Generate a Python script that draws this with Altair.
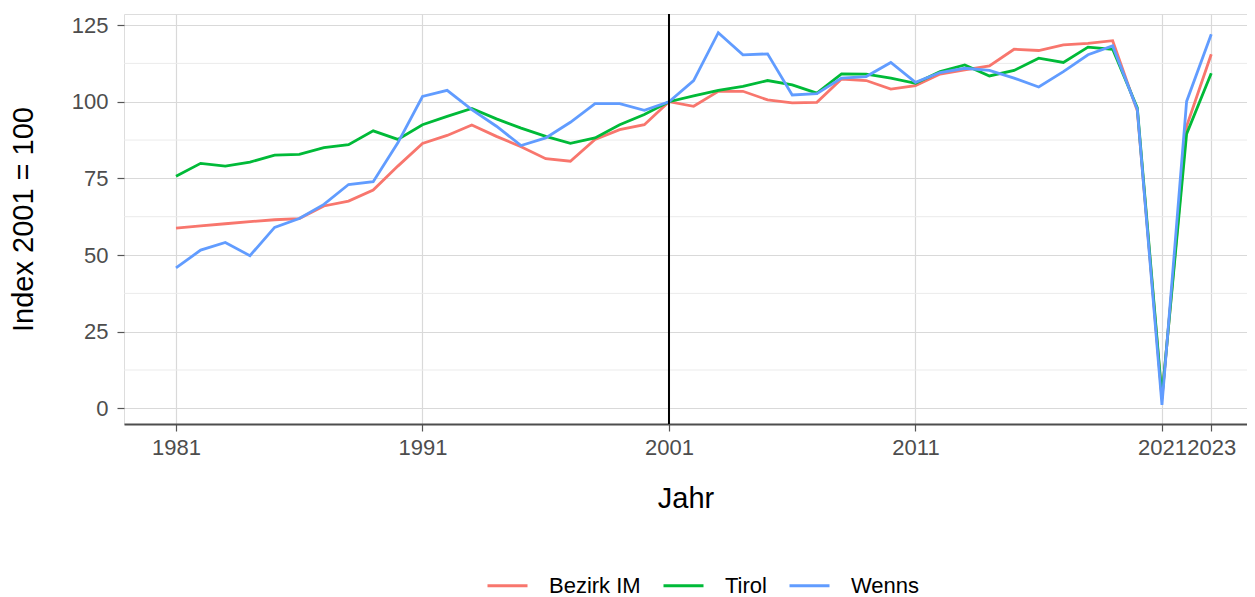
import altair as alt
import pandas as pd

years = [1981, 1982, 1983, 1984, 1985, 1986, 1987, 1988, 1989, 1990,
         1991, 1992, 1993, 1994, 1995, 1996, 1997, 1998, 1999, 2000,
         2001, 2002, 2003, 2004, 2005, 2006, 2007, 2008, 2009, 2010,
         2011, 2012, 2013, 2014, 2015, 2016, 2017, 2018, 2019, 2020,
         2021, 2022, 2023]

bezirk_im = [58.8, 59.5, 60.2, 60.9, 61.5, 61.9, 66.0, 67.6, 71.2, 79.0,
             86.4, 89.0, 92.4, 88.7, 85.3, 81.4, 80.6, 87.7, 90.9, 92.5,
             100.0, 98.5, 103.4, 103.4, 100.6, 99.6, 99.8, 107.4, 106.9, 104.1,
             105.2, 109.0, 110.4, 111.7, 117.1, 116.7, 118.5, 119.0, 119.9, 97.0,
             3.2, 92.0, 115.5]

tirol = [75.7, 79.9, 79.0, 80.3, 82.6, 82.8, 85.0, 86.0, 90.5, 87.7,
         92.5, 95.2, 97.8, 94.4, 91.4, 88.7, 86.4, 88.2, 92.5, 95.8,
         100.0, 101.9, 103.7, 105.0, 106.9, 105.5, 102.8, 109.1, 109.0, 107.7,
         106.0, 109.8, 112.0, 108.4, 110.2, 114.2, 112.8, 117.8, 117.1, 98.0,
         3.8, 89.5, 109.3]

wenns = [45.8, 51.6, 54.1, 49.8, 59.0, 61.9, 66.5, 73.0, 73.9, 86.6,
         101.7, 103.7, 97.4, 92.0, 85.7, 88.2, 93.3, 99.4, 99.4, 97.2,
         100.0, 106.9, 122.5, 115.3, 115.6, 102.2, 102.6, 107.7, 108.2, 112.8,
         106.3, 109.5, 110.9, 110.2, 107.7, 104.8, 109.8, 115.3, 118.2, 97.5,
         1.1, 100.1, 122.0]

series_names = ["Bezirk IM", "Tirol", "Wenns"]
series_colors = ["#F8766D", "#00BA38", "#619CFF"]
x_breaks = [1981, 1991, 2001, 2011, 2021, 2023]
y_breaks = [0, 25, 50, 75, 100, 125]
y_minor = [12.5, 37.5, 62.5, 87.5, 112.5]
ref_year = [2001]

rows = []
for name, vals in zip(series_names, [bezirk_im, tirol, wenns]):
    for yr, v in zip(years, vals):
        rows.append({"Jahr": yr, "Index": v, "Gebiet": name})
df = pd.DataFrame(rows)

FONT = "Liberation Sans"
xscale = alt.Scale(domain=[1978.89, 2024.45], nice=False, zero=False)
yscale = alt.Scale(domain=[-5.1, 128.6], nice=False, zero=False)

x_axis = alt.Axis(values=x_breaks, format="d", title="Jahr",
                  labelOverlap=False, labelFlush=False, labelBound=False,
                  labelFontSize=22, labelColor="#4D4D4D", labelFont=FONT,
                  labelPadding=6, tickSize=7, tickColor="#555555", tickWidth=1.2,
                  grid=True, gridColor="#D9D9D9", gridWidth=1.2,
                  domain=True, domainColor="#4D4D4D", domainWidth=2,
                  titleFontSize=29, titleFont=FONT, titleFontWeight="normal",
                  titleColor="black", titlePadding=26)
y_axis = alt.Axis(values=y_breaks, title="Index 2001 = 100",
                  labelFontSize=22, labelColor="#4D4D4D", labelFont=FONT,
                  labelPadding=9, tickSize=7, tickColor="#555555", tickWidth=1.2,
                  grid=True, gridColor="#D9D9D9", gridWidth=1.2,
                  domain=False,
                  titleFontSize=29, titleFont=FONT, titleFontWeight="normal",
                  titleColor="black", titlePadding=33)

minor = alt.Chart(pd.DataFrame({"Index": y_minor})).mark_rule(
    color="#EBEBEB", strokeWidth=1
).encode(y=alt.Y("Index:Q", scale=yscale, axis=y_axis))

lines = alt.Chart(df).mark_line(strokeWidth=2.8).encode(
    x=alt.X("Jahr:Q", scale=xscale, axis=x_axis),
    y=alt.Y("Index:Q", scale=yscale, axis=y_axis),
    color=alt.Color("Gebiet:N",
                    scale=alt.Scale(domain=series_names, range=series_colors),
                    legend=alt.Legend(orient="none", legendX=362, legendY=550,
                                      direction="horizontal", title=None,
                                      symbolType="stroke", symbolSize=1600,
                                      symbolStrokeWidth=3, labelFontSize=22,
                                      labelFont=FONT, labelColor="black",
                                      labelOffset=20, columnPadding=16)),
)

vline = alt.Chart(pd.DataFrame({"Jahr": ref_year})).mark_rule(
    color="black", strokeWidth=2
).encode(x=alt.X("Jahr:Q", scale=xscale, axis=x_axis))

chart = alt.layer(minor, lines, vline).properties(
    width=1123, height=410,
    autosize=alt.AutoSizeParams(type="none"),
    padding={"left": 116, "top": 6, "right": 0, "bottom": 173},
).configure_view(stroke="#8C8C8C", strokeWidth=1.3).configure(background="white")

chart.save("out.html", embed_options={"renderer": "svg", "actions": False})
